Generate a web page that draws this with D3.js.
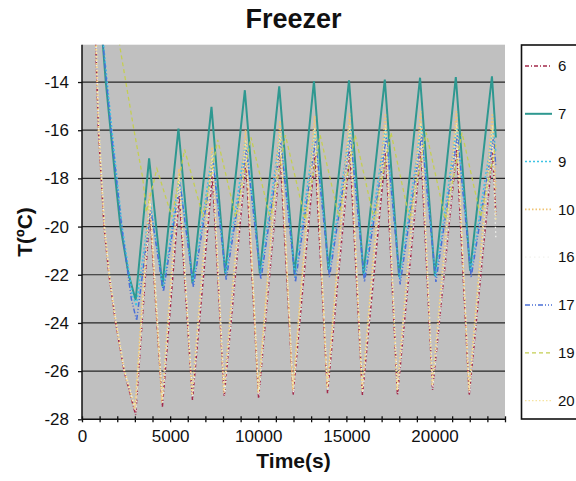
<!DOCTYPE html>
<html>
<head>
<meta charset="utf-8">
<script src="https://cdn.jsdelivr.net/npm/d3@7"></script>
<style>
body { margin: 0; background: #fff; }
text { font-family: "Liberation Sans", Arial, sans-serif; }
</style>
</head>
<body>
<div id="chart"></div>
<script>
// series names (legend order)
var names = ["6", "7", "9", "10", "16", "17", "19", "20"];

// time (s) and temperature (ºC), one pair of arrays per series
var time6 = [600, 780, 930, 1250, 1530, 1910, 2390, 3045, 3850, 4562, 5520, 6267, 7400, 8068, 9300, 10020, 11250, 11980, 13220, 13930, 15200, 15910, 17230, 17900, 19230, 19890, 21260, 21970, 23300, 23480];
var temp6 = [-9, -12.5, -16, -20, -22, -24, -26, -27.82, -19.4, -27.48, -18.7, -27.2, -17.9, -27.06, -17.3, -27.13, -17.1, -26.99, -17.0, -26.92, -16.9, -26.99, -16.9, -27.0, -16.8, -26.78, -16.8, -27.0, -16.9, -19.5];

var time7 = [900, 1190, 1350, 1620, 1890, 2180, 2650, 3045, 3807, 4562, 5472, 6267, 7347, 8125, 9240, 10090, 11190, 12060, 13160, 13980, 15150, 15970, 17180, 17990, 19180, 20020, 21210, 22020, 23260, 23480];
var temp7 = [-10, -12.5, -14, -16, -18, -20, -22, -23.05, -17.17, -22.47, -15.93, -22.36, -15.03, -21.94, -14.34, -21.94, -14.18, -21.97, -13.97, -21.8, -13.93, -21.97, -13.9, -22.08, -13.82, -22.05, -13.79, -21.83, -13.76, -16.3];

var time9 = [950, 1230, 1700, 2280, 2850, 3080, 3880, 4600, 5530, 6300, 7400, 8160, 9300, 10130, 11250, 12090, 13220, 14020, 15210, 16000, 17240, 18030, 19240, 20060, 21270, 22060, 23320, 23480];
var temp9 = [-10, -12.5, -16, -20, -22.8, -23.3, -19.0, -22.6, -17.9, -22.4, -16.9, -22.0, -16.4, -22.0, -16.1, -22.1, -16.0, -21.9, -15.9, -22.1, -15.9, -22.2, -15.8, -22.1, -15.8, -21.9, -15.9, -16.9];

var time10 = [600, 780, 930, 1250, 1530, 1910, 2390, 3000, 3830, 4530, 5500, 6240, 7380, 8040, 9280, 10000, 11230, 11960, 13200, 13910, 15180, 15890, 17210, 17880, 19210, 19870, 21240, 21950, 23280, 23480];
var temp10 = [-9, -12.5, -16, -20, -22, -24, -26, -27.6, -18.6, -27.3, -17.6, -27.0, -16.7, -26.9, -16.0, -26.9, -15.6, -26.8, -15.4, -26.7, -15.3, -26.8, -15.3, -26.8, -15.2, -26.6, -15.2, -26.8, -15.3, -18.5];

var time16 = [620, 800, 950, 1270, 1550, 1930, 2410, 3060, 3870, 4580, 5540, 6280, 7420, 8090, 9320, 10040, 11270, 12000, 13240, 13950, 15220, 15930, 17250, 17920, 19250, 19910, 21280, 21990, 23310, 23480];
var temp16 = [-9, -12.5, -16, -20, -22, -24, -26, -27.7, -19.0, -27.3, -18.2, -27.1, -17.5, -27.0, -17.0, -27.0, -16.8, -26.9, -16.6, -26.8, -16.6, -26.9, -16.5, -26.9, -16.5, -26.7, -16.5, -26.9, -16.6, -20.5];

var time17 = [900, 1200, 1650, 2250, 2800, 3100, 3900, 4620, 5560, 6320, 7430, 8180, 9330, 10150, 11280, 12110, 13250, 14040, 15240, 16030, 17270, 18050, 19270, 20080, 21300, 22080, 23350, 23480];
var temp17 = [-10, -12.5, -16, -20, -23, -23.9, -19.3, -22.7, -18.2, -22.5, -17.3, -22.2, -16.8, -22.2, -16.5, -22.3, -16.4, -22.1, -16.3, -22.3, -16.3, -22.4, -16.2, -22.3, -16.2, -22.1, -16.3, -17.5];

var time19 = [1900, 2140, 2950, 3450, 3650, 4250, 5100, 5820, 6870, 7700, 8720, 9590, 10690, 11540, 12660, 13510, 14580, 15500, 16570, 17530, 18590, 19530, 20620, 21560, 22620, 23480];
var temp19 = [-10, -12.5, -16, -18, -19.4, -17.6, -19.6, -16.8, -19.6, -16.4, -19.6, -16.3, -19.7, -16.2, -19.7, -16.2, -19.6, -16.2, -19.7, -16.1, -19.7, -16.1, -19.7, -16.1, -19.6, -16.6];

var time20 = [640, 820, 970, 1290, 1570, 1950, 2430, 3030, 3840, 4550, 5510, 6250, 7390, 8060, 9290, 10010, 11240, 11970, 13210, 13920, 15190, 15900, 17220, 17890, 19220, 19880, 21250, 21960, 23290, 23480];
var temp20 = [-9, -12.5, -16, -20, -22, -24, -26, -27.5, -18.9, -27.2, -17.9, -27.0, -17.0, -26.9, -16.4, -26.9, -16.1, -26.8, -15.9, -26.7, -15.8, -26.8, -15.8, -26.8, -15.7, -26.6, -15.7, -26.8, -15.8, -19.8];

var yTicks = [-28, -26, -24, -22, -20, -18, -16, -14];
var xLabels = [0, 5000, 10000, 15000, 20000];

var w = 576;
var h = 481;
var plotLeft = 82, plotRight = 505, plotTop = 44.7, plotBottom = 419.3;

var seriesTimes = [time6, time7, time9, time10, time16, time17, time19, time20];
var seriesTemps = [temp6, temp7, temp9, temp10, temp16, temp17, temp19, temp20];
var colors = ["#a3284a", "#2e9890", "#3ec4e4", "#f0c474", "#f2f2ee", "#4a6fd6", "#c4ce52", "#f6e4a0"];
var dashes = ["4,2,1,2", null, "2,2", "1.5,2", "1.5,3", "5,2,1,2,1,2", "4,3", "1.5,2"];
var widths = [1.5, 2, 1.5, 1.6, 1.3, 1.5, 1.3, 1.4];

var series = names.map(function(n, i) {
    return {
        name: n,
        values: seriesTimes[i].map(function(t, j) {
            return {t: t, T: seriesTemps[i][j]};
        })
    };
});

var xScale = d3.scaleLinear()
    .domain([0, 24000])
    .range([plotLeft, plotRight]);

var yScale = d3.scaleLinear()
    .domain([-28, -12.45])
    .range([plotBottom, plotTop]);

var svg = d3.select("#chart")
    .append("svg")
    .attr("width", w)
    .attr("height", h);

// plot area
svg.append("rect")
    .attr("x", plotLeft)
    .attr("y", plotTop)
    .attr("width", plotRight - plotLeft)
    .attr("height", plotBottom - plotTop)
    .attr("fill", "#c0c0c0");

svg.append("clipPath")
    .attr("id", "clip")
    .append("rect")
    .attr("x", plotLeft)
    .attr("y", plotTop)
    .attr("width", plotRight - plotLeft)
    .attr("height", plotBottom - plotTop);

// grid lines
svg.selectAll(".grid")
    .data(yTicks.slice(1))
    .enter()
    .append("line")
    .attr("class", "grid")
    .attr("x1", plotLeft)
    .attr("x2", plotRight)
    .attr("y1", function(d) { return yScale(d); })
    .attr("y2", function(d) { return yScale(d); })
    .attr("stroke", "#262626")
    .attr("stroke-width", 1.2);

// lines
var line = d3.line()
    .x(function(d) { return xScale(d.t); })
    .y(function(d) { return yScale(d.T); });

svg.append("g")
    .attr("clip-path", "url(#clip)")
    .selectAll("path")
    .data(series)
    .enter()
    .append("path")
    .attr("d", function(d) { return line(d.values); })
    .attr("fill", "none")
    .attr("stroke", function(d, i) { return colors[i]; })
    .attr("stroke-width", function(d, i) { return widths[i]; })
    .attr("stroke-dasharray", function(d, i) { return dashes[i]; });

//// AXES ////
var xAxis = d3.axisBottom(xScale)
    .tickValues(d3.range(0, 24001, 1000))
    .tickFormat(function(d) { return xLabels.indexOf(d) >= 0 ? d : ""; })
    .tickSizeOuter(0);

var yAxis = d3.axisLeft(yScale)
    .tickValues(yTicks)
    .tickFormat(function(d) { return d; })
    .tickSizeOuter(0);

var gx = svg.append("g")
    .attr("transform", "translate(0," + plotBottom + ")")
    .call(xAxis);
gx.select(".domain").attr("stroke", "#111").attr("stroke-width", 1.5)
    .attr("d", "M" + plotLeft + ",0H" + plotRight);
gx.selectAll(".tick line").attr("y1", -3).attr("y2", 3).attr("stroke", "#111").attr("stroke-width", 1.3);
gx.selectAll(".tick text").attr("y", 11).attr("font-size", "17px").attr("fill", "#111")
    .attr("font-family", "'Liberation Sans', Arial, sans-serif");

var gy = svg.append("g")
    .attr("transform", "translate(" + plotLeft + ",0)")
    .call(yAxis);
gy.select(".domain").attr("stroke", "#111").attr("stroke-width", 1.5)
    .attr("d", "M0," + plotTop + "V" + plotBottom);
gy.selectAll(".tick line").attr("x1", -4).attr("x2", 0).attr("stroke", "#111").attr("stroke-width", 1.3);
gy.selectAll(".tick text").attr("x", -13).attr("font-size", "17px").attr("fill", "#111")
    .attr("font-family", "'Liberation Sans', Arial, sans-serif");

//// TITLES ////
svg.append("text")
    .attr("x", (plotLeft + plotRight) / 2)
    .attr("y", 28)
    .attr("text-anchor", "middle")
    .attr("font-size", "27px")
    .attr("font-weight", "bold")
    .attr("fill", "#111")
    .text("Freezer");

svg.append("text")
    .attr("x", (plotLeft + plotRight) / 2)
    .attr("y", 468)
    .attr("text-anchor", "middle")
    .attr("font-size", "21px")
    .attr("font-weight", "bold")
    .attr("fill", "#111")
    .text("Time(s)");

svg.append("text")
    .attr("transform", "translate(32,232) rotate(-90)")
    .attr("text-anchor", "middle")
    .attr("font-size", "21px")
    .attr("font-weight", "bold")
    .attr("fill", "#111")
    .text("T(ºC)");

//// LEGEND ////
var legend = svg.append("g");
legend.append("rect")
    .attr("x", 521.5)
    .attr("y", 45)
    .attr("width", 80)
    .attr("height", 374)
    .attr("fill", "#fff")
    .attr("stroke", "#111")
    .attr("stroke-width", 1.6);

var items = legend.selectAll(".item")
    .data(series)
    .enter()
    .append("g")
    .attr("class", "item")
    .attr("transform", function(d, i) { return "translate(0," + (66 + i * 47.8) + ")"; });

items.append("line")
    .attr("x1", 525)
    .attr("x2", 552)
    .attr("stroke", function(d, i) { return colors[i]; })
    .attr("stroke-width", function(d, i) { return widths[i]; })
    .attr("stroke-dasharray", function(d, i) { return dashes[i]; });

items.append("text")
    .attr("x", 558)
    .attr("dy", "0.35em")
    .attr("font-size", "15px")
    .attr("fill", "#111")
    .text(function(d) { return d.name; });
</script>
</body>
</html>
